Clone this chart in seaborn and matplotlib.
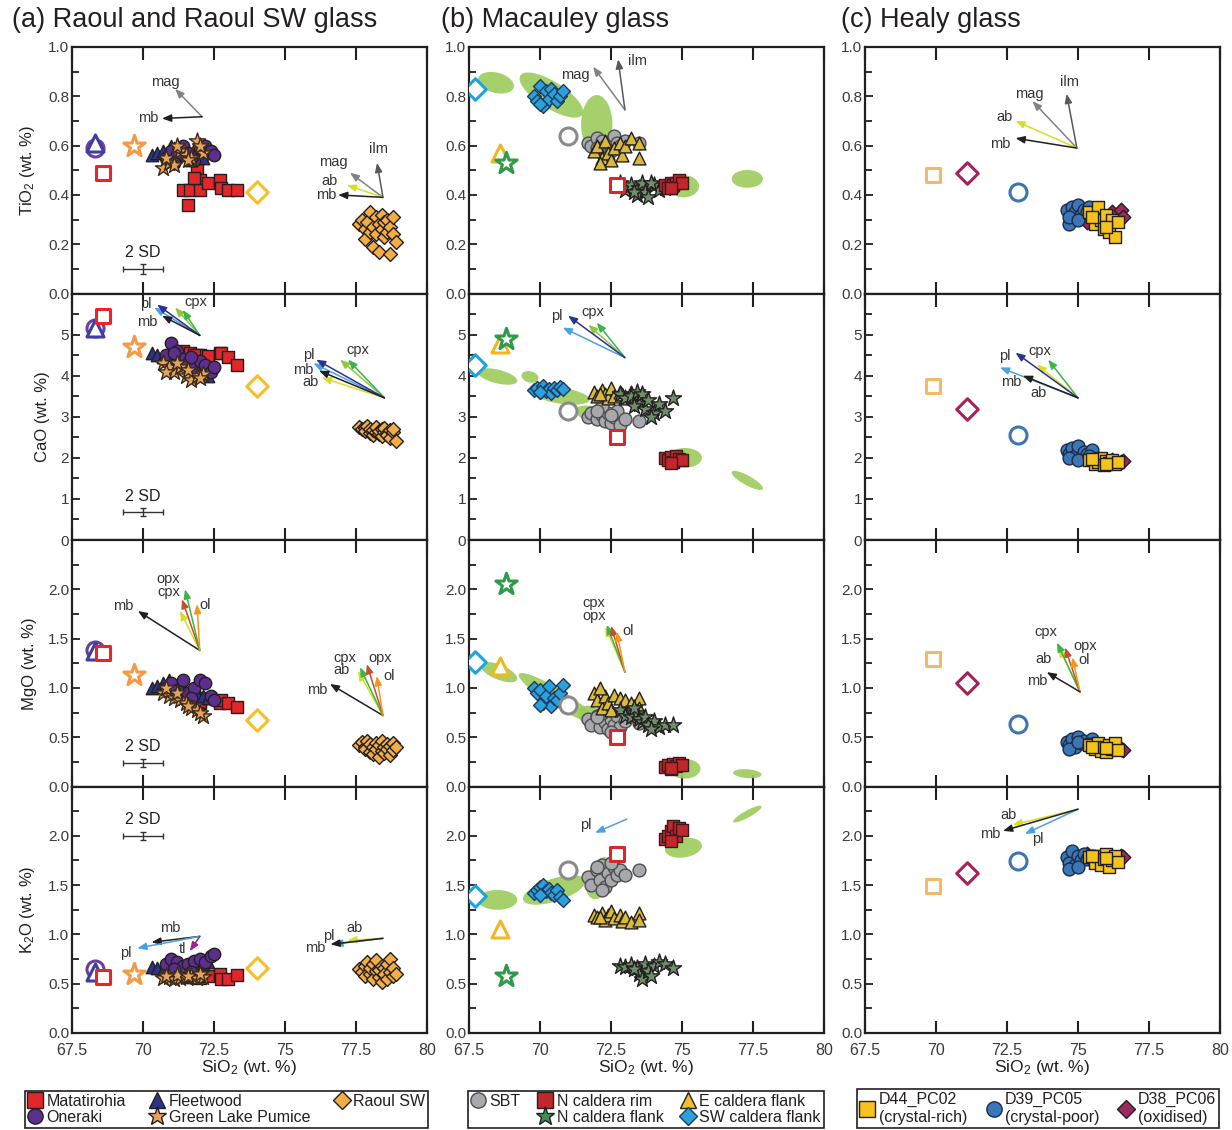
import numpy as np
import pandas as pd
import matplotlib
matplotlib.use("Agg")
import matplotlib.pyplot as plt
from matplotlib.lines import Line2D
from matplotlib.ticker import MultipleLocator
import seaborn as sns

sns.set_theme(style="ticks")
plt.rcParams["font.family"] = ["Liberation Sans", "DejaVu Sans"]
plt.rcParams["mathtext.fontset"] = "custom"
plt.rcParams["mathtext.rm"] = "Liberation Sans"
plt.rcParams["mathtext.default"] = "regular"
plt.rcParams["axes.linewidth"] = 1.5

OXIDES = ["TiO2", "CaO", "MgO", "K2O"]

# ---------------- (a) Raoul and Raoul SW glass ----------------
sio2_mat = [71.4, 71.65, 71.9, 72.0, 72.0, 72.3, 72.7, 72.75, 73.0, 73.3, 71.6, 71.8]
tio2_mat = [0.42, 0.42, 0.50, 0.46, 0.42, 0.45, 0.46, 0.43, 0.42, 0.42, 0.36, 0.47]
cao_mat = [4.60, 4.55, 4.50, 4.45, 4.50, 4.48, 4.55, 4.55, 4.45, 4.25, 4.40, 4.50]
mgo_mat = [0.95, 0.93, 0.90, 0.88, 0.85, 0.90, 0.85, 0.88, 0.85, 0.81, 0.90, 0.92]
k2o_mat = [0.58, 0.57, 0.60, 0.58, 0.56, 0.58, 0.60, 0.55, 0.55, 0.59, 0.57, 0.58]

sio2_flt = [70.3, 70.5, 70.7, 70.9, 71.1, 71.3, 71.5, 71.7, 71.9, 72.1, 72.3, 71.0]
tio2_flt = [0.56, 0.57, 0.58, 0.55, 0.59, 0.56, 0.58, 0.54, 0.57, 0.55, 0.58, 0.60]
cao_flt = [4.55, 4.50, 4.45, 4.40, 4.35, 4.30, 4.25, 4.20, 4.10, 4.05, 4.00, 4.40]
mgo_flt = [1.00, 1.02, 1.05, 1.08, 1.00, 0.98, 0.96, 0.95, 0.93, 0.92, 0.90, 1.04]
k2o_flt = [0.67, 0.66, 0.64, 0.62, 0.60, 0.58, 0.60, 0.62, 0.65, 0.70, 0.72, 0.63]

sio2_one = [70.8, 71.0, 71.2, 71.4, 71.6, 71.8, 72.0, 72.2, 72.4, 72.5, 71.1, 71.7]
tio2_one = [0.55, 0.58, 0.56, 0.60, 0.57, 0.54, 0.59, 0.60, 0.58, 0.56, 0.53, 0.55]
cao_one = [4.50, 4.80, 4.60, 4.40, 4.30, 4.20, 4.35, 4.25, 4.10, 4.20, 4.55, 4.45]
mgo_one = [1.00, 1.05, 0.98, 1.08, 0.95, 1.00, 1.08, 1.05, 0.92, 0.88, 0.97, 0.90]
k2o_one = [0.70, 0.75, 0.72, 0.68, 0.70, 0.73, 0.75, 0.72, 0.78, 0.80, 0.65, 0.62]

sio2_glp = [70.7, 70.9, 71.1, 71.3, 71.5, 71.7, 71.9, 72.1, 71.2, 71.6, 72.0, 70.8]
tio2_glp = [0.51, 0.53, 0.52, 0.58, 0.56, 0.55, 0.62, 0.57, 0.60, 0.54, 0.60, 0.55]
cao_glp = [4.30, 4.20, 4.10, 4.20, 4.00, 3.90, 4.00, 4.05, 4.30, 4.15, 3.95, 4.10]
mgo_glp = [0.95, 0.92, 0.90, 0.88, 0.85, 0.80, 0.78, 0.72, 0.95, 0.82, 0.75, 1.00]
k2o_glp = [0.56, 0.57, 0.55, 0.56, 0.57, 0.58, 0.56, 0.57, 0.59, 0.58, 0.60, 0.58]

sio2_rsw = [77.6, 77.7, 77.8, 77.8, 77.9, 78.0, 78.0, 78.1, 78.1, 78.2, 78.2, 78.3,
            78.3, 78.4, 78.4, 78.5, 78.5, 78.6, 78.6, 78.7, 78.7, 78.8, 78.8, 78.9]
tio2_rsw = [0.28, 0.30, 0.26, 0.22, 0.29, 0.33, 0.25, 0.27, 0.19, 0.31, 0.24, 0.28,
            0.17, 0.32, 0.26, 0.29, 0.23, 0.30, 0.25, 0.16, 0.27, 0.31, 0.24, 0.21]
cao_rsw = [2.75, 2.70, 2.72, 2.65, 2.78, 2.60, 2.70, 2.55, 2.68, 2.62, 2.74, 2.58,
           2.66, 2.70, 2.52, 2.64, 2.72, 2.60, 2.55, 2.68, 2.48, 2.62, 2.70, 2.40]
mgo_rsw = [0.42, 0.45, 0.40, 0.38, 0.46, 0.35, 0.43, 0.40, 0.33, 0.44, 0.38, 0.42,
           0.30, 0.46, 0.36, 0.40, 0.34, 0.43, 0.38, 0.32, 0.41, 0.44, 0.37, 0.40]
k2o_rsw = [0.65, 0.62, 0.68, 0.58, 0.72, 0.60, 0.66, 0.55, 0.70, 0.63, 0.74, 0.57,
           0.64, 0.68, 0.52, 0.66, 0.60, 0.70, 0.55, 0.62, 0.75, 0.58, 0.66, 0.60]

# open symbols: Oneraki, Fleetwood, Matatirohia, Green Lake Pumice, Raoul SW
open_a_sio2 = [68.3, 68.3, 68.6, 69.7, 74.0]
open_a_tio2 = [0.59, 0.61, 0.49, 0.60, 0.41]
open_a_cao = [5.15, 5.15, 5.45, 4.70, 3.75]
open_a_mgo = [1.38, 1.37, 1.35, 1.13, 0.67]
open_a_k2o = [0.65, 0.62, 0.57, 0.60, 0.66]

# ---------------- (b) Macauley glass ----------------
sio2_sbt = [71.7, 71.8, 72.0, 72.1, 72.2, 72.3, 72.4, 72.5, 72.6, 72.7, 72.8, 73.0, 72.2, 72.5, 73.5, 72.0]
tio2_sbt = [0.61, 0.60, 0.63, 0.58, 0.62, 0.60, 0.59, 0.62, 0.64, 0.61, 0.60, 0.62, 0.57, 0.58, 0.61, 0.59]
cao_sbt = [3.00, 3.10, 2.95, 3.20, 3.05, 2.90, 3.10, 2.85, 3.00, 3.15, 2.80, 2.95, 3.25, 3.05, 2.90, 3.15]
mgo_sbt = [0.68, 0.62, 0.72, 0.60, 0.70, 0.65, 0.58, 0.68, 0.62, 0.72, 0.60, 0.66, 0.75, 0.55, 0.64, 0.70]
k2o_sbt = [1.58, 1.50, 1.65, 1.55, 1.70, 1.48, 1.62, 1.55, 1.68, 1.60, 1.65, 1.60, 1.45, 1.72, 1.65, 1.68]

sio2_ncr = [74.4, 74.5, 74.6, 74.7, 74.8, 74.9, 75.0, 74.6]
tio2_ncr = [0.44, 0.43, 0.45, 0.44, 0.45, 0.46, 0.45, 0.43]
cao_ncr = [2.00, 1.95, 2.02, 1.90, 2.05, 1.98, 1.95, 1.88]
mgo_ncr = [0.20, 0.22, 0.18, 0.23, 0.21, 0.24, 0.22, 0.19]
k2o_ncr = [1.97, 2.00, 2.05, 2.10, 2.00, 2.08, 2.06, 1.95]

sio2_ecf = [71.9, 72.0, 72.2, 72.3, 72.4, 72.5, 72.6, 72.8, 72.9, 73.0, 73.2, 73.5, 73.5, 72.1]
tio2_ecf = [0.58, 0.60, 0.55, 0.62, 0.57, 0.54, 0.59, 0.61, 0.56, 0.60, 0.63, 0.61, 0.55, 0.53]
cao_ecf = [3.60, 3.50, 3.65, 3.55, 3.45, 3.70, 3.50, 3.60, 3.55, 3.45, 3.60, 3.50, 3.40, 3.55]
mgo_ecf = [0.95, 0.88, 0.80, 0.92, 0.85, 0.78, 0.93, 0.90, 0.82, 0.88, 0.85, 0.90, 0.80, 1.00]
k2o_ecf = [1.20, 1.18, 1.22, 1.15, 1.20, 1.24, 1.17, 1.20, 1.14, 1.18, 1.13, 1.22, 1.15, 1.18]

sio2_ncf = [72.8, 73.0, 73.2, 73.4, 73.5, 73.6, 73.7, 73.8, 74.0, 74.2, 74.4, 74.7, 73.3, 73.9]
tio2_ncf = [0.45, 0.42, 0.44, 0.40, 0.43, 0.45, 0.41, 0.39, 0.44, 0.42, 0.43, 0.44, 0.41, 0.45]
cao_ncf = [3.55, 3.45, 3.50, 3.60, 3.30, 3.55, 3.20, 3.40, 3.10, 3.30, 3.15, 3.45, 3.25, 3.00]
mgo_ncf = [0.78, 0.72, 0.70, 0.75, 0.68, 0.65, 0.70, 0.62, 0.66, 0.60, 0.62, 0.62, 0.80, 0.58]
k2o_ncf = [0.68, 0.67, 0.69, 0.66, 0.60, 0.55, 0.70, 0.63, 0.68, 0.72, 0.70, 0.66, 0.65, 0.58]

sio2_swf = [69.8, 69.9, 70.0, 70.1, 70.2, 70.3, 70.4, 70.5, 70.6, 70.7, 70.8, 70.0]
tio2_swf = [0.80, 0.78, 0.84, 0.76, 0.82, 0.79, 0.83, 0.81, 0.78, 0.80, 0.82, 0.77]
cao_swf = [3.65, 3.70, 3.60, 3.75, 3.62, 3.68, 3.58, 3.70, 3.65, 3.72, 3.68, 3.60]
mgo_swf = [1.00, 0.95, 0.98, 0.85, 0.92, 1.02, 0.82, 0.90, 0.88, 0.95, 1.03, 0.83]
k2o_swf = [1.42, 1.45, 1.48, 1.50, 1.44, 1.46, 1.42, 1.40, 1.45, 1.38, 1.35, 1.40]

# open symbols: SW caldera flank, SBT, E caldera flank, N caldera flank, N caldera rim
open_b_sio2 = [67.7, 71.0, 68.6, 68.8, 72.7]
open_b_tio2 = [0.83, 0.64, 0.57, 0.53, 0.44]
open_b_cao = [4.25, 3.15, 4.78, 4.90, 2.50]
open_b_mgo = [1.26, 0.83, 1.22, 2.05, 0.50]
open_b_k2o = [1.39, 1.65, 1.05, 0.58, 1.82]

# literature compositional fields: centre x, centre y, half-width, half-height, slope
fields_tio2 = [(68.45, 0.855, 0.63, 0.042, -0.02), (70.4, 0.805, 1.12, 0.062, -0.06),
               (72.0, 0.685, 0.55, 0.12, 0.0), (75.05, 0.435, 0.55, 0.045, 0.0),
               (77.3, 0.465, 0.55, 0.036, 0.0)]
fields_cao = [(68.5, 3.98, 0.7, 0.17, -0.15), (69.65, 3.97, 0.3, 0.14, -0.1),
              (70.7, 3.52, 1.05, 0.2, -0.1), (71.9, 3.05, 0.65, 0.2, -0.15),
              (75.1, 2.0, 0.6, 0.24, 0.0), (77.3, 1.45, 0.55, 0.13, -0.35)]
fields_mgo = [(68.55, 1.16, 0.65, 0.08, -0.1), (70.6, 0.9, 1.35, 0.1, -0.17),
              (71.85, 0.69, 0.5, 0.12, -0.1), (75.1, 0.18, 0.55, 0.1, 0.0),
              (77.3, 0.13, 0.5, 0.045, -0.02)]
fields_k2o = [(68.5, 1.35, 0.7, 0.1, 0.0), (70.5, 1.45, 1.1, 0.12, 0.08),
              (72.1, 1.57, 0.48, 0.2, 0.15), (75.05, 1.88, 0.65, 0.1, 0.03),
              (77.3, 2.22, 0.5, 0.04, 0.15)]

# ---------------- (c) Healy glass ----------------
sio2_d38 = [75.6, 75.9, 76.2, 76.5, 76.6, 75.3]
tio2_d38 = [0.30, 0.27, 0.33, 0.34, 0.31, 0.29]
cao_d38 = [1.95, 1.90, 1.95, 1.90, 1.92, 2.00]
mgo_d38 = [0.40, 0.38, 0.40, 0.38, 0.37, 0.42]
k2o_d38 = [1.78, 1.80, 1.76, 1.80, 1.78, 1.82]

sio2_d39 = [74.6, 74.7, 74.8, 74.9, 75.0, 75.1, 75.2, 75.3, 75.5, 74.7, 75.0, 75.4]
tio2_d39 = [0.34, 0.28, 0.35, 0.33, 0.36, 0.32, 0.34, 0.33, 0.33, 0.31, 0.30, 0.35]
cao_d39 = [2.20, 2.10, 2.25, 2.05, 2.30, 2.00, 2.15, 2.10, 2.20, 2.00, 1.95, 2.05]
mgo_d39 = [0.45, 0.42, 0.48, 0.40, 0.50, 0.44, 0.46, 0.42, 0.48, 0.38, 0.45, 0.43]
k2o_d39 = [1.78, 1.72, 1.85, 1.70, 1.80, 1.75, 1.82, 1.76, 1.80, 1.66, 1.68, 1.78]

sio2_d44 = [75.4, 75.6, 75.7, 75.8, 75.9, 76.0, 76.1, 76.2, 76.3, 76.4, 75.5, 76.0]
tio2_d44 = [0.33, 0.28, 0.35, 0.30, 0.26, 0.32, 0.25, 0.30, 0.23, 0.29, 0.31, 0.27]
cao_d44 = [1.95, 1.85, 1.90, 2.00, 1.82, 1.92, 1.88, 1.95, 1.85, 1.90, 1.98, 1.86]
mgo_d44 = [0.42, 0.38, 0.44, 0.36, 0.40, 0.35, 0.42, 0.38, 0.44, 0.37, 0.40, 0.39]
k2o_d44 = [1.78, 1.72, 1.80, 1.70, 1.76, 1.82, 1.68, 1.75, 1.80, 1.73, 1.80, 1.77]

# open symbols: D44_PC02, D38_PC06, D39_PC05
open_c_sio2 = [69.9, 71.1, 72.9]
open_c_tio2 = [0.48, 0.49, 0.41]
open_c_cao = [3.75, 3.20, 2.55]
open_c_mgo = [1.29, 1.05, 0.63]
open_c_k2o = [1.49, 1.62, 1.74]

# ---------------- fractionation vectors (start x, start y, end x, end y, phase) ----------------
vec_a = {
    "TiO2": [(72.08, 0.717, 71.13, 0.83, "mag"), (72.08, 0.717, 70.67, 0.71, "mb"),
             (78.45, 0.39, 78.24, 0.53, "ilm"), (78.45, 0.39, 77.29, 0.49, "mag"),
             (78.45, 0.39, 77.18, 0.44, "ab"), (78.45, 0.39, 76.87, 0.40, "mb")],
    "CaO": [(72.0, 4.98, 71.13, 5.66, "cpx2"), (72.0, 4.98, 71.4, 5.60, "cpx"),
            (72.0, 4.98, 70.4, 5.66, "pl2"), (72.0, 4.98, 70.5, 5.73, "pl"),
            (72.0, 4.98, 70.67, 5.46, "mb"),
            (78.5, 3.46, 76.94, 4.39, "cpx2"), (78.5, 3.46, 77.22, 4.39, "cpx"),
            (78.5, 3.46, 76.3, 3.95, "ab"), (78.5, 3.46, 76.0, 4.30, "pl2"),
            (78.5, 3.46, 76.1, 4.39, "pl"), (78.5, 3.46, 76.2, 4.12, "mb")],
    "MgO": [(72.0, 1.38, 69.82, 1.78, "mb"), (72.0, 1.38, 71.3, 1.78, "ab"),
            (72.0, 1.38, 71.37, 1.90, "opx"), (72.0, 1.38, 71.48, 2.00, "cpx"),
            (72.0, 1.38, 71.9, 1.85, "ol"),
            (78.45, 0.72, 76.58, 1.04, "mb"), (78.45, 0.72, 77.57, 1.17, "ab"),
            (78.45, 0.72, 77.64, 1.21, "cpx"), (78.45, 0.72, 77.88, 1.24, "opx"),
            (78.45, 0.72, 78.23, 1.12, "ol")],
    "K2O": [(72.0, 0.98, 70.3, 0.92, "mb"), (72.0, 0.98, 69.8, 0.86, "pl2"),
            (72.0, 0.98, 71.65, 0.83, "tl"),
            (78.45, 0.96, 77.2, 0.94, "ab"), (78.45, 0.96, 76.7, 0.90, "pl2"),
            (78.45, 0.96, 76.6, 0.90, "mb")],
}
vec_b = {
    "TiO2": [(72.99, 0.745, 71.87, 0.92, "mag"), (72.99, 0.745, 72.75, 0.95, "ilm")],
    "CaO": [(72.99, 4.44, 71.7, 5.24, "cpx2"), (72.99, 4.44, 72.0, 5.29, "cpx"),
            (72.99, 4.44, 70.8, 5.17, "pl2"), (72.99, 4.44, 70.99, 5.46, "pl")],
    "MgO": [(72.99, 1.16, 72.3, 1.62, "ab"), (72.99, 1.16, 72.35, 1.64, "cpx"),
            (72.99, 1.16, 72.5, 1.63, "opx"), (72.99, 1.16, 72.7, 1.57, "ol")],
    "K2O": [(73.06, 2.17, 71.94, 2.03, "pl2")],
}
vec_c = {
    "TiO2": [(74.96, 0.59, 74.6, 0.81, "ilm"), (74.96, 0.59, 73.4, 0.78, "mag"),
             (74.96, 0.59, 72.8, 0.70, "ab"), (74.96, 0.59, 72.8, 0.63, "mb")],
    "CaO": [(75.0, 3.46, 73.95, 4.39, "cpx"), (75.0, 3.46, 73.55, 4.27, "ab"),
            (75.0, 3.46, 72.25, 4.20, "pl2"), (75.0, 3.46, 72.8, 4.56, "pl"),
            (75.0, 3.46, 73.06, 4.00, "mb")],
    "MgO": [(75.07, 0.96, 74.33, 1.41, "ab"), (75.07, 0.96, 74.26, 1.46, "cpx"),
            (75.07, 0.96, 74.54, 1.41, "opx"), (75.07, 0.96, 74.8, 1.31, "ol"),
            (75.07, 0.96, 73.9, 1.16, "mb")],
    "K2O": [(75.0, 2.27, 72.7, 2.11, "ab"), (75.0, 2.27, 73.13, 2.02, "pl2"),
            (75.0, 2.27, 72.36, 2.05, "mb")],
}
# phase labels (x, y, text)
lab_a = {
    "TiO2": [(70.8, 0.86, "mag"), (70.2, 0.71, "mb"), (78.3, 0.585, "ilm"),
             (76.7, 0.535, "mag"), (76.55, 0.455, "ab"), (76.45, 0.40, "mb")],
    "CaO": [(70.1, 5.75, "pl"), (71.85, 5.8, "cpx"), (70.15, 5.3, "mb"),
            (75.85, 4.5, "pl"), (77.55, 4.62, "cpx"), (75.65, 4.15, "mb"), (75.9, 3.85, "ab")],
    "MgO": [(70.9, 2.1, "opx"), (70.9, 1.97, "cpx"), (72.2, 1.84, "ol"), (69.3, 1.83, "mb"),
            (77.1, 1.3, "cpx"), (78.35, 1.3, "opx"), (77.0, 1.18, "ab"),
            (78.65, 1.12, "ol"), (76.15, 0.98, "mb")],
    "K2O": [(70.95, 1.06, "mb"), (69.4, 0.81, "pl"), (71.4, 0.85, "tl"),
            (76.55, 0.985, "pl"), (77.45, 1.06, "ab"), (76.05, 0.86, "mb")],
}
lab_b = {
    "TiO2": [(71.25, 0.885, "mag"), (73.45, 0.945, "ilm")],
    "CaO": [(70.6, 5.46, "pl"), (71.85, 5.56, "cpx")],
    "MgO": [(71.9, 1.86, "cpx"), (71.9, 1.73, "opx"), (73.1, 1.58, "ol")],
    "K2O": [(71.6, 2.11, "pl")],
}
lab_c = {
    "TiO2": [(74.7, 0.86, "ilm"), (73.3, 0.81, "mag"), (72.4, 0.715, "ab"), (72.25, 0.605, "mb")],
    "CaO": [(72.43, 4.47, "pl"), (73.65, 4.6, "cpx"), (72.65, 3.84, "mb"), (73.6, 3.58, "ab")],
    "MgO": [(73.85, 1.57, "cpx"), (75.25, 1.43, "opx"), (73.8, 1.29, "ab"),
            (75.2, 1.28, "ol"), (73.55, 1.07, "mb")],
    "K2O": [(72.55, 2.21, "ab"), (71.9, 2.02, "mb"), (73.6, 1.97, "pl")],
}

PHASE_COL = {"mb": "#231f20", "mag": "#808285", "ilm": "#58595b", "ab": "#d7df23",
             "pl": "#2e3192", "pl2": "#4aa3df", "cpx": "#39b54a", "cpx2": "#8dc63f",
             "opx": "#c1502e", "ol": "#f7941d", "tl": "#92278f"}

# 2 SD analytical uncertainty (x, y, xerr, yerr)
sd_bar = {"TiO2": (70.0, 0.10, 0.7, 0.02), "CaO": (70.0, 0.68, 0.7, 0.1),
          "MgO": (70.0, 0.24, 0.7, 0.04), "K2O": (70.0, 2.0, 0.7, 0.04)}

Y_LIM = {"TiO2": 1.0, "CaO": 6.0, "MgO": 2.5, "K2O": 2.5}
Y_TICKS = {"TiO2": [0, 0.2, 0.4, 0.6, 0.8, 1.0], "CaO": [0, 1, 2, 3, 4, 5],
           "MgO": [0, 0.5, 1.0, 1.5, 2.0], "K2O": [0, 0.5, 1.0, 1.5, 2.0]}
Y_TICKLABELS = {"TiO2": ["0.0", "0.2", "0.4", "0.6", "0.8", "1.0"],
                "CaO": ["0", "1", "2", "3", "4", "5"],
                "MgO": ["0.0", "0.5", "1.0", "1.5", "2.0"],
                "K2O": ["0.0", "0.5", "1.0", "1.5", "2.0"]}
Y_MINOR = {"TiO2": 0.1, "CaO": 0.5, "MgO": 0.25, "K2O": 0.25}
Y_LABEL = {"TiO2": "TiO$_2$ (wt. %)", "CaO": "CaO (wt. %)",
           "MgO": "MgO (wt. %)", "K2O": "K$_2$O (wt. %)"}
X_TICKS = [67.5, 70, 72.5, 75, 77.5, 80]
X_TICKLABELS = ["67.5", "70", "72.5", "75", "77.5", "80"]


def frame(name, sio2, tio2, cao, mgo, k2o):
    return pd.DataFrame({"group": name, "SiO2": sio2, "TiO2": tio2,
                         "CaO": cao, "MgO": mgo, "K2O": k2o})


# group name, data, marker, face colour, size, edge colour
groups_a = [
    ("Matatirohia", frame("Matatirohia", sio2_mat, tio2_mat, cao_mat, mgo_mat, k2o_mat), "s", "#e3262a", 75, "#231f20"),
    ("Fleetwood", frame("Fleetwood", sio2_flt, tio2_flt, cao_flt, mgo_flt, k2o_flt), "^", "#2b3488", 80, "#231f20"),
    ("Oneraki", frame("Oneraki", sio2_one, tio2_one, cao_one, mgo_one, k2o_one), "o", "#5c2f8f", 80, "#231f20"),
    ("Green Lake Pumice", frame("Green Lake Pumice", sio2_glp, tio2_glp, cao_glp, mgo_glp, k2o_glp), "*", "#e6a35c", 150, "#3a2a1a"),
    ("Raoul SW", frame("Raoul SW", sio2_rsw, tio2_rsw, cao_rsw, mgo_rsw, k2o_rsw), "D", "#f2ae45", 50, "#231f20"),
]
groups_b = [
    ("SBT", frame("SBT", sio2_sbt, tio2_sbt, cao_sbt, mgo_sbt, k2o_sbt), "o", "#a7a9ac", 85, "#4d4d4f"),
    ("E caldera flank", frame("E caldera flank", sio2_ecf, tio2_ecf, cao_ecf, mgo_ecf, k2o_ecf), "^", "#d9b93a", 85, "#231f20"),
    ("N caldera flank", frame("N caldera flank", sio2_ncf, tio2_ncf, cao_ncf, mgo_ncf, k2o_ncf), "*", "#6f8f6a", 150, "#231f20"),
    ("N caldera rim", frame("N caldera rim", sio2_ncr, tio2_ncr, cao_ncr, mgo_ncr, k2o_ncr), "s", "#c1272d", 75, "#3a1a1a"),
    ("SW caldera flank", frame("SW caldera flank", sio2_swf, tio2_swf, cao_swf, mgo_swf, k2o_swf), "D", "#2aa1dc", 50, "#1f3a5a"),
]
groups_c = [
    ("D38_PC06", frame("D38_PC06", sio2_d38, tio2_d38, cao_d38, mgo_d38, k2o_d38), "D", "#9c2a5c", 55, "#231f20"),
    ("D39_PC05", frame("D39_PC05", sio2_d39, tio2_d39, cao_d39, mgo_d39, k2o_d39), "o", "#3a77b8", 85, "#1f2a44"),
    ("D44_PC02", frame("D44_PC02", sio2_d44, tio2_d44, cao_d44, mgo_d44, k2o_d44), "s", "#f6c21c", 85, "#231f20"),
]

open_a = (open_a_sio2, {"TiO2": open_a_tio2, "CaO": open_a_cao, "MgO": open_a_mgo, "K2O": open_a_k2o},
          ["o", "^", "s", "*", "D"], ["#6a3ea0", "#3a3fa0", "#e8262a", "#f29a45", "#f5be2a"],
          [150, 150, 110, 260, 120])
open_b = (open_b_sio2, {"TiO2": open_b_tio2, "CaO": open_b_cao, "MgO": open_b_mgo, "K2O": open_b_k2o},
          ["D", "o", "^", "*", "s"], ["#1fa3dc", "#8a8a8a", "#f2b71f", "#2e9a4a", "#d9262c"],
          [120, 150, 150, 260, 110])
open_c = (open_c_sio2, {"TiO2": open_c_tio2, "CaO": open_c_cao, "MgO": open_c_mgo, "K2O": open_c_k2o},
          ["s", "D", "o"], ["#f1b96a", "#a3245a", "#3c74b4"], [110, 120, 150])

fields = {"TiO2": fields_tio2, "CaO": fields_cao, "MgO": fields_mgo, "K2O": fields_k2o}

fig = plt.figure(figsize=(12.32, 11.3), dpi=100)
FW, FH = 1232.0, 1130.0
LEFTS = [72, 469, 865]
PW = 355
TOP = 47
PH = 246.5


def draw_field(ax, cx, cy, rx, ry, slope):
    t = np.linspace(0, 2 * np.pi, 120)
    dx = rx * np.cos(t)
    ax.fill(cx + dx, cy + ry * np.sin(t) + slope * dx, color="#9ccb5b",
            alpha=0.9, lw=0, zorder=1)


def draw_open(ax, spec, ox):
    xs, ys, markers, colours, sizes = spec
    for x, y, m, c, s in zip(xs, ys[ox], markers, colours, sizes):
        ax.scatter([x], [y], marker=m, s=s, facecolor="white", edgecolor=c,
                   linewidth=2.2, zorder=6)


for col in range(3):
    groups = [groups_a, groups_b, groups_c][col]
    vecs = [vec_a, vec_b, vec_c][col]
    labs = [lab_a, lab_b, lab_c][col]
    ospec = [open_a, open_b, open_c][col]
    for row, ox in enumerate(OXIDES):
        bottom = 1 - (TOP + (row + 1) * PH) / FH
        ax = fig.add_axes([LEFTS[col] / FW, bottom, PW / FW, PH / FH])
        if col == 1:
            for f in fields[ox]:
                draw_field(ax, *f)
        for name, df, m, c, s, ec in groups:
            sns.scatterplot(data=df, x="SiO2", y=ox, marker=m, color=c, s=s,
                            edgecolor=ec, linewidth=1.0, ax=ax, zorder=4, legend=False)
        draw_open(ax, ospec, ox)
        for x0, y0, x1, y1, ph in vecs[ox]:
            ax.annotate("", xy=(x1, y1), xytext=(x0, y0), zorder=5,
                        arrowprops=dict(arrowstyle="-|>,head_length=0.45,head_width=0.18",
                                        color=PHASE_COL[ph], lw=1.1,
                                        shrinkA=0, shrinkB=0))
        for x, y, t in labs[ox]:
            ax.text(x, y, t, fontsize=10.5, color="#333333", ha="center",
                    va="center", zorder=7)
        if col == 0:
            x, y, xe, ye = sd_bar[ox]
            ax.errorbar([x], [y], xerr=[xe], yerr=[ye], fmt="none",
                        ecolor="#333333", elinewidth=1.0, capsize=2.5, zorder=5)
            ax.text(x, y + Y_LIM[ox] * 0.065, "2 SD", fontsize=11.5,
                    ha="center", va="center", color="#231f20")

        ax.set_xlim(67.5, 80)
        ax.set_ylim(0, Y_LIM[ox])
        ax.set_xticks(X_TICKS)
        ax.set_yticks(Y_TICKS[ox])
        ax.set_yticklabels(Y_TICKLABELS[ox], fontsize=11, color="#3a3a3a")
        ax.yaxis.set_minor_locator(MultipleLocator(Y_MINOR[ox]))
        ax.tick_params(axis="x", which="major", direction="in", top=True,
                       bottom=True, length=9, width=1.5, pad=7, color="#231f20")
        ax.tick_params(axis="y", which="major", direction="in", left=True,
                       right=False, length=6, width=1.3, pad=2, color="#231f20")
        ax.tick_params(axis="y", which="minor", direction="in", left=True,
                       right=False, length=5, width=1.3, color="#231f20")
        for sp in ax.spines.values():
            sp.set_color("#231f20")
            sp.set_linewidth(1.6)
        if row == 3:
            ax.set_xticklabels(X_TICKLABELS, fontsize=11.5, color="#3a3a3a")
            ax.set_xlabel("SiO$_2$ (wt. %)", fontsize=12.5, labelpad=0, color="#231f20")
        else:
            ax.set_xticklabels([])
            ax.set_xlabel("")
        if col == 0:
            ax.set_ylabel(Y_LABEL[ox], fontsize=12, labelpad=8, color="#231f20")
        else:
            ax.set_ylabel("")

# column titles
fig.text(12 / FW, 1 - 20 / FH, "(a) Raoul and Raoul SW glass", fontsize=19.5, va="center", color="#231f20")
fig.text(441 / FW, 1 - 20 / FH, "(b) Macauley glass", fontsize=19.5, va="center", color="#231f20")
fig.text(841 / FW, 1 - 20 / FH, "(c) Healy glass", fontsize=19.5, va="center", color="#231f20")


def handle(m, c, ec="#231f20", ms=11):
    return Line2D([], [], marker=m, color="none", markerfacecolor=c,
                  markeredgecolor=ec, markersize=ms, markeredgewidth=1.0)


blank = Line2D([], [], color="none", marker=None)
leg_kw = dict(loc="lower left", mode="expand", ncol=3, fontsize=11.5, frameon=True,
              fancybox=False, edgecolor="#231f20", framealpha=1, borderpad=0.2,
              labelspacing=0.05, handletextpad=0.25, columnspacing=0.3,
              handlelength=0.9, borderaxespad=0)

leg_a = fig.legend([handle("s", "#e3262a"), handle("o", "#5c2f8f"), handle("^", "#2b3488"),
                    handle("*", "#f2a052", ms=14), handle("D", "#f2ae45", ms=9)],
                   ["Matatirohia", "Oneraki", "Fleetwood", "Green Lake Pumice", "Raoul SW"],
                   bbox_to_anchor=(25 / FW, 2 / FH, 403 / FW, 42 / FH), **leg_kw)
leg_b = fig.legend([handle("o", "#a7a9ac", "#4d4d4f"), blank, handle("s", "#c1272d"),
                    handle("*", "#3e8e4e", ms=14), handle("^", "#f0c030"),
                    handle("D", "#2aa1dc", "#1f3a5a", ms=9)],
                   ["SBT", "", "N caldera rim", "N caldera flank", "E caldera flank", "SW caldera flank"],
                   bbox_to_anchor=(468 / FW, 2 / FH, 356 / FW, 42 / FH), **leg_kw)
leg_c = fig.legend([handle("s", "#f6c21c"), handle("o", "#3a77b8", "#1f2a44"), handle("D", "#9c2a5c", ms=9)],
                   ["D44_PC02\n(crystal-rich)", "D39_PC05\n(crystal-poor)", "D38_PC06\n(oxidised)"],
                   bbox_to_anchor=(857 / FW, 2 / FH, 362 / FW, 42 / FH), **leg_kw)
for lg in (leg_a, leg_b, leg_c):
    lg.get_frame().set_linewidth(1.2)
    for t in lg.get_texts():
        t.set_color("#231f20")

fig.savefig("out.png", dpi=100, facecolor="white")
